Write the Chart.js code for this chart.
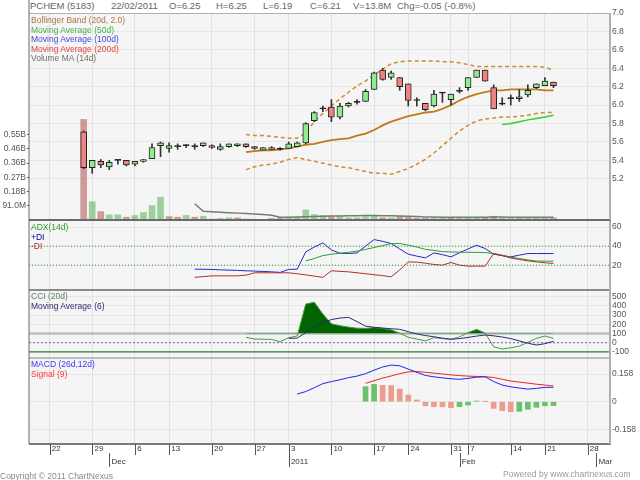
<!DOCTYPE html>
<html><head><meta charset="utf-8">
<script src="https://cdn.jsdelivr.net/npm/chart.js@4.4.1/dist/chart.umd.min.js"></script>
<style>
html,body{margin:0;padding:0;background:#fff;width:640px;height:480px;overflow:hidden;font-family:"Liberation Sans",Arial,sans-serif}
canvas{position:absolute;left:0}
.t{position:absolute;white-space:nowrap;font-size:8.5px;line-height:10px;z-index:5}
#title span{position:absolute;top:0;font-size:9.5px;line-height:12px;color:#666;white-space:nowrap}
</style></head><body>
<div id="title"></div>
<canvas id="c1" width="640" height="221" style="top:0"></canvas>
<canvas id="c2" width="640" height="68" style="top:221px"></canvas>
<canvas id="c3" width="640" height="68" style="top:289px"></canvas>
<canvas id="c4" width="640" height="123" style="top:357px"></canvas>

<div class="t" style="left:31px;top:15px;color:#ad7545">Bollinger Band (20d, 2.0)</div>
<div class="t" style="left:31px;top:24.5px;color:#44b444">Moving Average (50d)</div>
<div class="t" style="left:31px;top:34px;color:#4848d8">Moving Average (100d)</div>
<div class="t" style="left:31px;top:43.5px;color:#e24444">Moving Average (200d)</div>
<div class="t" style="left:31px;top:53px;color:#6f6f62">Volume MA (14d)</div>
<div class="t" style="left:31px;top:222.3px;color:#2e9a2e">ADX(14d)</div>
<div class="t" style="left:31px;top:231.7px;color:#000099">+DI</div>
<div class="t" style="left:31px;top:241px;color:#aa3333">-DI</div>
<div class="t" style="left:31px;top:291px;color:#5f7f5f">CCI (20d)</div>
<div class="t" style="left:31px;top:300.7px;color:#2d2d6d">Moving Average (6)</div>
<div class="t" style="left:31px;top:359.3px;color:#3535ff">MACD (26d,12d)</div>
<div class="t" style="left:31px;top:369.3px;color:#ff3535">Signal (9)</div>
<div class="t" style="left:0;top:470.7px;color:#8a8a8a">Copyright © 2011 ChartNexus</div>
<div class="t" style="left:503px;top:469px;color:#9a9a9a">Powered by www.chartnexus.com</div>

<script>
// ---------------- DATA ----------------
const tradingDays = [
 '2010-11-22','2010-11-23','2010-11-24','2010-11-25','2010-11-26',
 '2010-11-29','2010-11-30','2010-12-01','2010-12-02','2010-12-03',
 '2010-12-06','2010-12-08','2010-12-09','2010-12-10',
 '2010-12-13','2010-12-14','2010-12-15','2010-12-16','2010-12-17',
 '2010-12-20','2010-12-21','2010-12-22','2010-12-23','2010-12-24',
 '2010-12-27','2010-12-28','2010-12-29','2010-12-30',
 '2011-01-03','2011-01-04','2011-01-05','2011-01-06','2011-01-07',
 '2011-01-10','2011-01-11','2011-01-12','2011-01-13','2011-01-14',
 '2011-01-17','2011-01-18','2011-01-19','2011-01-21',
 '2011-01-24','2011-01-25','2011-01-26','2011-01-27','2011-01-28',
 '2011-01-31','2011-02-01',
 '2011-02-07','2011-02-08','2011-02-09','2011-02-10','2011-02-11',
 '2011-02-14','2011-02-16','2011-02-17','2011-02-18',
 '2011-02-21','2011-02-22','2011-02-23','2011-02-24','2011-02-25',
 '2011-02-28','2011-03-01','2011-03-02'];

const priceStart = '2010-11-26';
const open  = [5.71,5.32,5.39,5.33,5.40,5.40,5.36,5.39,5.42,5.56, 5.53,5.55,5.56,5.55,5.56,5.56,5.52,5.55,5.56,5.58, 5.55,5.51,5.54,5.52,5.53,5.55,5.59,5.83,5.96,5.98, 5.87,5.99,6.03,6.04,6.17,6.38,6.30,6.30,6.23,6.05, 6.02,5.99,6.13,6.06,6.15,6.19,6.30,6.38,6.19,6.01, 6.07,6.07,6.11,6.19,6.21,6.25];
const high  = [5.72,5.40,5.41,5.40,5.41,5.40,5.39,5.41,5.58,5.60, 5.59,5.58,5.57,5.58,5.59,5.57,5.58,5.58,5.58,5.58, 5.55,5.54,5.55,5.54,5.60,5.60,5.81,5.93,5.99,6.06, 6.02,6.03,6.06,6.17,6.36,6.40,6.37,6.30,6.23,6.08, 6.02,6.16,6.14,6.12,6.19,6.30,6.38,6.38,6.22,6.08, 6.11,6.17,6.22,6.23,6.30,6.25];
const low   = [5.31,5.26,5.32,5.30,5.36,5.34,5.34,5.38,5.42,5.44, 5.49,5.52,5.54,5.52,5.55,5.53,5.51,5.54,5.55,5.54, 5.52,5.51,5.52,5.51,5.53,5.55,5.58,5.82,5.93,5.82, 5.85,5.98,6.01,6.04,6.17,6.27,6.28,6.16,5.99,5.99, 5.94,5.98,6.03,6.00,6.13,6.16,6.30,6.26,5.96,6.00, 6.00,6.04,6.09,6.18,6.21,6.19];
const close = [5.32,5.40,5.35,5.38,5.40,5.35,5.39,5.41,5.54,5.59, 5.56,5.55,5.56,5.55,5.59,5.54,5.55,5.58,5.58,5.55, 5.53,5.54,5.52,5.52,5.58,5.59,5.80,5.92,5.96,5.87, 5.99,6.02,6.03,6.15,6.35,6.28,6.35,6.20,6.05,6.05, 5.95,6.12,6.13,6.12,6.15,6.30,6.38,6.26,5.96,6.01, 6.07,6.09,6.16,6.23,6.26,6.21];
// volume in millions
const volume = [644,117,54,33,33,18,29,48,93,146, 22,18,29,18,24,6,10,14,14,6, 5,4,10,14,18,18,65,35,29,22, 22,14,14,22,26,14,14,24,18,12, 14,14,10,14,10,14,18,14,24,16, 10,12,14,12,14,13.8];

const volMAStart = '2010-12-16';
const volMA = [104,56,53,50,47,44,41,38,35,30, 18,18,19,21,23,24,25,26,27,28, 29,29,28,27,25,24,22,20,19,18, 18,18,18,18,18,19,19,18,18,18, 18,18,18];

const bbStart = '2010-12-24';
const bbUpper = [5.68,5.67,5.67,5.66,5.65,5.64,5.64,5.70,5.82,5.91, 5.99,6.07,6.14,6.21,6.26,6.33,6.39,6.45,6.47,6.48, 6.48,6.48,6.48,6.47,6.47,6.46,6.44,6.42,6.42,6.42, 6.42,6.42,6.42,6.42,6.42,6.41,6.38];
const bbMiddle = [5.49,5.50,5.51,5.51,5.52,5.53,5.55,5.57,5.58,5.60, 5.62,5.63,5.64,5.67,5.69,5.73,5.78,5.82,5.85,5.88, 5.90,5.92,5.93,5.96,6.00,6.05,6.09,6.12,6.14,6.16, 6.16,6.17,6.17,6.17,6.17,6.16,6.16];
const bbLower = [5.30,5.33,5.35,5.36,5.38,5.41,5.43,5.41,5.39,5.37, 5.35,5.33,5.32,5.30,5.28,5.26,5.26,5.25,5.28,5.31, 5.36,5.41,5.48,5.56,5.64,5.72,5.78,5.83,5.85,5.86, 5.87,5.87,5.88,5.89,5.91,5.92,5.92];

const ma50Start = '2011-02-11';
const ma50 = [5.79,5.80,5.82,5.84,5.855,5.87,5.89];

const diStart = '2010-12-16';
const plusDI = [15.8,15.7,15.5,15.1,14.8,14.5,14.1,13.8,13.4,13.0, 12.4,15.5,15.8,33.9,39.0,43.3,36.0,32.5,32.2,32.8, 40.0,46.8,45.0,42.7,37.0,31.5,29.5,27.6,32.8,31.0, 28.7,33.0,37.0,40.9,37.4,31.5,30.0,28.7,30.5,32.2, 32.2,32.2,32.2];
const minusDI = [7.2,8.0,8.8,8.8,8.8,8.8,9.5,12.0,12.0,12.0, 12.0,12.0,11.0,9.8,8.5,7.2,14.1,13.5,13.0,12.0, 11.0,10.0,9.0,7.8,15.0,23.4,23.2,22.0,20.7,20.0, 22.8,20.0,19.0,19.0,19.0,32.2,30.0,27.5,26.0,24.5, 23.5,22.5,21.8];
const adxStart = '2011-01-05';
const adx = [24.5,27.0,30.0,31.5,32.5,33.5,34.8,36.5,38.5,40.5, 42.5,42.7,41.0,39.0,36.6,35.5,34.2,33.8,33.6,33.5, 33.4,33.2,32.2,30.5,28.2,27.0,25.5,24.3,24.2,24.2];

const cciStart = '2010-12-24';
const cci = [59,40,38,36,11,55,73,420,440,312, 205,185,170,158,155,165,155,140,103,60, 40,20,55,45,37,63,110,145,105,-45, -68,-55,-37,5,48,73,48];
const cciMAStart = '2011-01-03';
const cciMA = [48,50,110,175,220,252,268,276,230,180, 168,160,152,146,120,95,78,65,50,38, 45,58,72,84,75,62,45,20,-5,-25, -10,15];

const macdStart = '2011-01-04';
const macd = [0.044,0.058,0.080,0.103,0.115,0.125,0.137,0.146,0.160,0.180, 0.198,0.209,0.205,0.186,0.168,0.150,0.142,0.136,0.131,0.128, 0.133,0.140,0.142,0.115,0.095,0.085,0.078,0.072,0.076,0.082, 0.082];
const signalStart = '2011-01-14';
const signal = [0.105,0.120,0.135,0.147,0.160,0.170,0.172,0.168,0.163,0.158, 0.153,0.149,0.146,0.144,0.143,0.138,0.128,0.118,0.112,0.106, 0.100,0.095,0.090];
const hist = [0.086,0.099,0.093,0.092,0.072,0.038,0.010,-0.023,-0.028,-0.029, -0.034,-0.028,-0.019,0.004,0.001,-0.038,-0.051,-0.057,-0.055,-0.043, -0.032,-0.023,-0.022];

// tick labels / levels
const priceTicks = [5.2,5.4,5.6,5.8,6.0,6.2,6.4,6.6,6.8,7.0];
const volTicks = [91,182,273,364,455,546];
const adxTicks = [20,40,60];
const adxLevels = [20,40];
const cciTicks = [-100,0,100,200,300,400,500];
const cciLevels = [100,0,-100];
const macdTicks = [-0.158,0,0.158];
const MONTHS = ['Jan','Feb','Mar','Apr','May','Jun','Jul','Aug','Sep','Oct','Nov','Dec'];

// ---------------- HELPERS ----------------
const FONT = '"Liberation Sans", Arial, sans-serif';
Chart.defaults.font.family = FONT;
const GRID = '#e2e2e2';
const X_MIN = -2.4, X_MAX = 65.5;
const idxOf = d => tradingDays.indexOf(d);
const pts = (start, vals) => { const s = idxOf(start); return vals.map((v,k)=>({x:s+k, y:v})); };
const mondays = tradingDays.map((d,i)=>[d,i]).filter(([d])=>new Date(d+'T00:00:00Z').getUTCDay()===1).map(([,i])=>i);
const monthFirst = tradingDays.map((d,i)=>[d,i]).filter(([d],k)=>k>0 && d.slice(0,7)!==tradingDays[k-1].slice(0,7)).map(([,i])=>i);
const axisTicks = Array.from(new Set([...mondays, ...monthFirst])).sort((a,b)=>a-b);

const p0 = idxOf(priceStart);
const bodyData = open.map((o,k)=>({x:p0+k, y:[o, close[k]]}));
const wickData = open.map((o,k)=>({x:p0+k, y:[low[k], high[k]]}));
const bodyColors = open.map((o,k)=> close[k]>o ? '#8fec8f' : close[k]<o ? '#f08282' : '#111');
const volData = volume.map((v,k)=>({x:p0+k, y:v}));
const volColors = volume.map((v,k)=> (k===0 ? close[0]>=open[0] : close[k]>close[k-1]) ? 'rgba(115,188,115,0.68)' : 'rgba(188,110,110,0.68)');
const histData = pts(signalStart, hist);
const histColors = hist.map((h,k)=> (k===0 || h>hist[k-1]) ? '#6cbf6c' : '#eb9c8c');

// title
(function(){
  const n = close.length-1, d = tradingDays[p0+n];
  const chg = close[n]-close[n-1];
  const items = [
    [30,'PCHEM (5183)'], [111, d.slice(8)+'/'+d.slice(5,7)+'/'+d.slice(0,4)],
    [169,'O='+open[n].toFixed(2)], [216,'H='+high[n].toFixed(2)], [263,'L='+low[n].toFixed(2)],
    [310,'C='+close[n].toFixed(2)], [353,'V='+volume[n].toFixed(1)+'M'],
    [397,'Chg='+chg.toFixed(2)+' ('+(chg/close[n-1]*100).toFixed(1)+'%)']];
  const t = document.getElementById('title');
  items.forEach(([x,s])=>{ const e=document.createElement('span'); e.style.left=x+'px'; e.textContent=s; t.appendChild(e); });
})();

// ---------------- PLUGINS ----------------
const framePlugin = {
  id:'frame',
  beforeDraw(chart, a, o){ const r=chart.chartArea, c=chart.ctx; c.save(); c.fillStyle='#f5f5f5'; c.fillRect(r.left,r.top,r.right-r.left,r.bottom-r.top); c.restore(); },
  afterDraw(chart, a, o){
    const r=chart.chartArea, c=chart.ctx; c.save();
    if(o.top){ c.fillStyle=o.top[0]; c.fillRect(r.left, r.top, r.right-r.left+2, o.top[1]); }
    if(o.bottom){ c.fillStyle=o.bottom[0]; c.fillRect(r.left, r.bottom-o.bottom[1]/2, r.right-r.left+2, o.bottom[1]); }
    c.fillStyle='#6a6a6a'; c.fillRect(r.left-0.5, 0, 1, chart.height - (o.leftCut||0));
    c.fillStyle='#b0b0b0'; c.fillRect(r.right, r.top, 2, r.bottom-r.top);
    c.restore();
  }
};
const levelsPlugin = {
  id:'levels',
  beforeDatasetsDraw(chart, a, o){
    const y=chart.scales.y, r=chart.chartArea, c=chart.ctx;
    (o.items||[]).forEach(l=>{ const py=y.getPixelForValue(l.value); c.save(); c.strokeStyle=l.color; c.lineWidth=l.width; c.setLineDash(l.dash||[]); c.beginPath(); c.moveTo(r.left,py); c.lineTo(r.right,py); c.stroke(); c.restore(); });
  }
};
const tickMarkPlugin = {
  id:'tickMarks',
  afterDraw(chart){
    const s=chart.scales.x, c=chart.ctx, b=chart.chartArea.bottom;
    c.save(); c.fillStyle='#555';
    s.ticks.forEach(t=>{
      const i=Math.round(t.value), px=Math.round(s.getPixelForValue(t.value));
      const isMon=mondays.includes(i), isMF=monthFirst.includes(i);
      const y0 = isMon ? b : b+9, y1 = isMF ? b+23 : b+11;
      c.fillRect(px, y0, 1, y1-y0);
    });
    c.restore();
  }
};

function xScale(labels){
  const cfg = {
    type:'linear', min:X_MIN, max:X_MAX, offset:false, bounds:'data',
    afterBuildTicks: s => { s.ticks = (labels ? axisTicks : mondays).map(v=>({value:v})); },
    grid:{ offset:false, drawTicks:false, color: c => (c.tick && mondays.includes(Math.round(c.tick.value))) ? GRID : 'rgba(0,0,0,0)' },
    border:{display:false},
    afterFit: s => { s.height = labels ? 36 : 0; s.paddingLeft = 0; s.paddingRight = 0; }
  };
  if(labels){
    cfg.ticks = { autoSkip:false, maxRotation:0, minRotation:0, align:'start', padding:-1, color:'#333',
      font:{size:8, lineHeight:'12.5px'},
      callback: v => { const i=Math.round(v), d=tradingDays[i]; const m=+d.slice(5,7)-1;
        const l1 = mondays.includes(i) ? ' '+(+d.slice(8)) : '';
        const l2 = monthFirst.includes(i) ? ' '+(m===0 ? d.slice(0,4) : MONTHS[m]) : '';
        return l2 ? [l1,l2] : l1; } };
  } else cfg.ticks = {display:false};
  return cfg;
}
function yRight(min,max,ticks,fmt){
  return { type:'linear', position:'right', min, max, bounds:'data',
    afterBuildTicks: s=>{ s.ticks = ticks.map(v=>({value:v})); },
    ticks:{ callback: fmt, color:'#555', font:{size:8.5}, padding:3, autoSkip:false },
    grid:{ color:'#e6e6e6', drawTicks:false }, border:{display:false},
    afterFit: s=>{ s.width = 31; s.paddingTop = 0; s.paddingBottom = 0; } };
}
const base = (padding, plugins) => ({ responsive:false, animation:false, events:[], layout:{padding},
  plugins:Object.assign({legend:{display:false}, tooltip:{enabled:false}}, plugins) });
const line = (data, color, width, extra) => Object.assign({type:'line', data, borderColor:color, borderWidth:width, pointRadius:0, tension:0, fill:false}, extra||{});

// ---------------- CHART 1: price + volume ----------------
new Chart(document.getElementById('c1'), {
  type:'bar',
  data:{ datasets:[
    {type:'bar', data:bodyData, backgroundColor:bodyColors, borderColor:'#222', borderWidth:1, borderSkipped:false, barThickness:6, grouped:false, minBarLength:1, yAxisID:'y', order:0},
    {type:'bar', data:wickData, backgroundColor:'#333', borderWidth:0, barThickness:1, grouped:false, yAxisID:'y', order:1},
    line(pts(bbStart,bbUpper), '#cf8a32', 1.5, {borderDash:[4,3], yAxisID:'y', order:2}),
    line(pts(bbStart,bbMiddle), '#c27818', 1.8, {yAxisID:'y', order:2}),
    line(pts(bbStart,bbLower), '#cf8a32', 1.5, {borderDash:[4,3], yAxisID:'y', order:2}),
    line(pts(ma50Start,ma50), '#2ed02e', 1.5, {yAxisID:'y', order:2}),
    line(pts(volMAStart,volMA), '#6e806e', 1.5, {yAxisID:'yv', order:3}),
    {type:'bar', data:volData, backgroundColor:volColors, borderWidth:0, barThickness:6, grouped:false, yAxisID:'yv', order:4}
  ]},
  options: Object.assign(base({top:13,bottom:1,left:0,right:0}, {frame:{top:['#b0b0b0',1], bottom:['#6a6a6a',2]}}), {
    scales:{
      x: xScale(false),
      y: yRight(4.753, 7.0, priceTicks, v=>v.toFixed(1)),
      yv:{ type:'linear', position:'left', min:0, max:1325, bounds:'data',
        afterBuildTicks: s=>{ s.ticks = volTicks.map(v=>({value:v})); },
        ticks:{ callback: v => v<100 ? v.toFixed(1)+'M' : (Math.round(v/10)/100).toFixed(2)+'B', color:'#555', font:{size:8.5}, padding:1 },
        grid:{ drawOnChartArea:false, drawTicks:true, tickLength:2, tickColor:'#555' }, border:{display:false},
        afterFit: s=>{ s.width = 29; s.paddingTop = 0; s.paddingBottom = 0; } }
    }}),
  plugins:[framePlugin]
});

// ---------------- CHART 2: ADX ----------------
new Chart(document.getElementById('c2'), {
  type:'line',
  data:{ datasets:[
    line(pts(diStart,minusDI), '#b03030', 1),
    line(pts(adxStart,adx), '#2aa02a', 1),
    line(pts(diStart,plusDI), '#2828c8', 1)
  ]},
  options: Object.assign(base({top:0,bottom:0,left:29,right:0}, {
      frame:{}, levels:{items: adxLevels.map(v=>({value:v, color:'#2a9a2a', width:1, dash:[1,2]}))}}), {
    scales:{ x:xScale(false), y:yRight(-5, 66.3, adxTicks, v=>String(v)) } }),
  plugins:[framePlugin, levelsPlugin]
});

// ---------------- CHART 3: CCI ----------------
const cciStyles = [
  {color:'#b8c2b8', width:2.5, dash:[]},
  {color:'#6b6bb0', width:1, dash:[2,2]},
  {color:'#2e7d2e', width:1.2, dash:[]}];
new Chart(document.getElementById('c3'), {
  type:'line',
  data:{ datasets:[
    line(pts(cciMAStart,cciMA), '#2a2a78', 1),
    line(pts(cciStart,cci), '#4a964a', 1, {fill:{target:{value:100}, above:'#006400', below:'rgba(0,0,0,0)'}})
  ]},
  options: Object.assign(base({top:0,bottom:0,left:29,right:0}, {
      frame:{top:['#8a8a8a',2]}, levels:{items: cciLevels.map((v,k)=>Object.assign({value:v}, cciStyles[k]))}}), {
    scales:{ x:xScale(false), y:yRight(-155, 584, cciTicks, v=>String(v)) } }),
  plugins:[framePlugin, levelsPlugin]
});

// ---------------- CHART 4: MACD ----------------
new Chart(document.getElementById('c4'), {
  type:'bar',
  data:{ datasets:[
    line(pts(macdStart,macd), '#2323ee', 1, {order:0}),
    line(pts(signalStart,signal), '#ee2323', 1, {order:0}),
    {type:'bar', data:histData, backgroundColor:histColors, borderWidth:0, barThickness:5, grouped:false, order:1}
  ]},
  options: Object.assign(base({top:0,bottom:0,left:29,right:0}, {frame:{top:['#bdbdbd',2], bottom:['#7a7a7a',2], leftCut:36}}), {
    scales:{ x:xScale(true), y:yRight(-0.241, 0.255, macdTicks, v=> v===0 ? '0' : v.toFixed(3)) } }),
  plugins:[framePlugin, tickMarkPlugin]
});
</script>
</body></html>
